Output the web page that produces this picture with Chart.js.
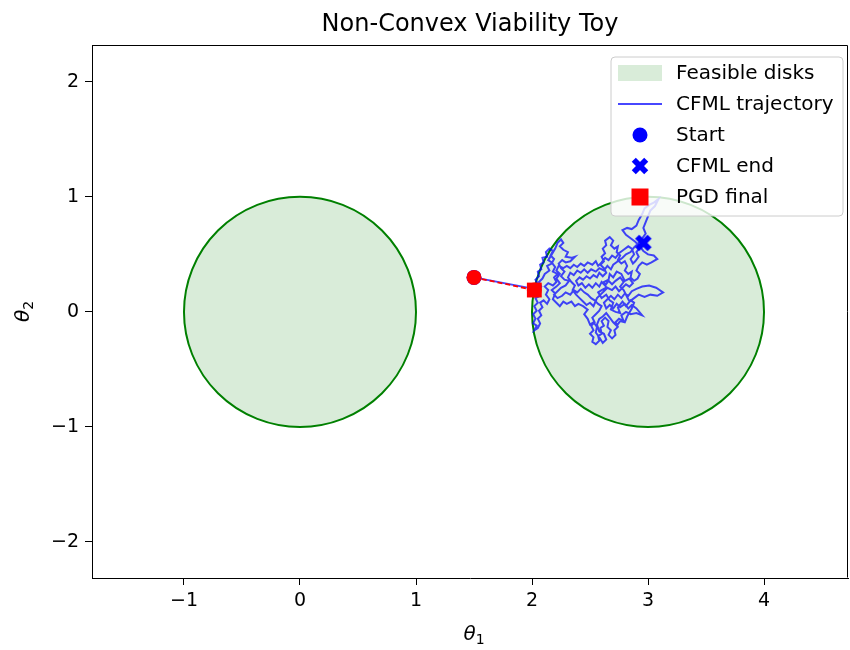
<!DOCTYPE html>
<html>
<head>
<meta charset="utf-8">
<script src="https://cdn.jsdelivr.net/npm/chart.js@4.4.0/dist/chart.umd.min.js"></script>
<style>
  html, body { margin: 0; padding: 0; background: #ffffff; }
  #wrap { width: 850px; height: 650px; }
</style>
</head>
<body>
<div id="wrap"><canvas id="c" width="850" height="650"></canvas></div>
<script>
// ---- data ----
const xTicks = [-1, 0, 1, 2, 3, 4];
const yTicks = [-2, -1, 0, 1, 2];
const diskCenters = [[0, 0], [3, 0]];
const diskRadius = 1;
const startPoint = [[1.5, 0.3]];
const cfmlEndPoint = [[2.96, 0.60]];
const pgdPath = [[1.5, 0.3], [2.02, 0.19]];
const pgdFinalPoint = [[2.02, 0.19]];
const cfmlTrajectory = [
  [1.50, 0.30], [2.02, 0.20],
  [2.05, 0.24], [2.03, 0.28], [2.06, 0.31], [2.05, 0.35], [2.08, 0.37], [2.07, 0.41],
  [2.10, 0.43], [2.09, 0.47], [2.13, 0.48], [2.12, 0.52], [2.15, 0.55], [2.18, 0.53],
  [2.16, 0.49], [2.19, 0.46], [2.17, 0.42], [2.13, 0.40], [2.15, 0.36], [2.11, 0.33],
  [2.09, 0.29], [2.06, 0.26], [2.08, 0.22], [2.05, 0.18], [2.07, 0.14], [2.03, 0.12],
  [2.05, 0.08], [2.02, 0.05], [2.04, 0.01], [2.01, -0.02], [2.03, -0.06], [2.01, -0.10],
  [2.04, -0.12], [2.02, -0.16], [2.05, -0.14], [2.07, -0.10], [2.05, -0.06], [2.08, -0.03],
  [2.06, 0.01], [2.09, 0.04], [2.07, 0.08], [2.10, 0.10], [2.13, 0.07], [2.15, 0.11],
  [2.12, 0.15], [2.14, 0.19], [2.11, 0.22], [2.14, 0.25], [2.18, 0.23], [2.21, 0.26],
  [2.19, 0.30], [2.22, 0.33], [2.18, 0.35], [2.20, 0.39], [2.17, 0.43], [2.14, 0.45],
  [2.17, 0.50], [2.20, 0.55], [2.22, 0.60], [2.25, 0.63], [2.27, 0.60], [2.24, 0.57],
  [2.27, 0.54], [2.31, 0.52], [2.29, 0.48], [2.34, 0.47], [2.37, 0.48], [2.33, 0.44],
  [2.29, 0.43], [2.26, 0.45], [2.23, 0.42], [2.25, 0.38], [2.28, 0.35], [2.25, 0.31],
  [2.28, 0.28], [2.32, 0.27], [2.29, 0.23], [2.25, 0.21], [2.22, 0.18], [2.19, 0.15],
  [2.22, 0.12], [2.26, 0.14], [2.29, 0.17], [2.33, 0.15], [2.36, 0.19], [2.39, 0.17],
  [2.42, 0.20], [2.45, 0.17], [2.48, 0.15], [2.51, 0.12], [2.54, 0.10], [2.57, 0.07],
  [2.60, 0.05], [2.58, 0.01], [2.55, -0.02],
  [2.52, -0.05], [2.54, -0.09], [2.51, -0.12], [2.53, -0.16], [2.50, -0.19], [2.53, -0.22],
  [2.52, -0.26], [2.55, -0.28], [2.58, -0.25], [2.57, -0.21], [2.60, -0.19], [2.59, -0.14],
  [2.62, -0.12], [2.60, -0.08], [2.63, -0.05], [2.66, -0.08], [2.65, -0.13], [2.68, -0.16],
  [2.66, -0.20], [2.69, -0.23], [2.72, -0.20], [2.71, -0.16], [2.74, -0.13], [2.72, -0.09],
  [2.75, -0.06], [2.79, -0.08], [2.77, -0.03], [2.81, 0.00], [2.85, -0.02], [2.90, -0.01],
  [2.95, -0.03], [2.90, 0.03], [2.86, 0.06], [2.83, 0.03], [2.80, 0.07], [2.76, 0.04],
  [2.73, 0.07], [2.70, 0.03], [2.67, 0.06], [2.64, 0.03], [2.62, 0.08], [2.65, 0.11],
  [2.68, 0.14], [2.71, 0.11], [2.74, 0.15], [2.77, 0.12], [2.80, 0.16], [2.83, 0.14],
  [2.86, 0.18], [2.90, 0.20], [2.95, 0.22], [3.01, 0.23], [3.07, 0.21], [3.13, 0.17],
  [3.08, 0.14], [3.02, 0.15], [2.97, 0.13], [2.92, 0.15], [2.88, 0.12], [2.84, 0.09],
  [2.82, 0.13], [2.79, 0.19], [2.76, 0.22], [2.79, 0.26], [2.76, 0.30], [2.72, 0.27],
  [2.69, 0.24], [2.66, 0.27], [2.63, 0.23], [2.60, 0.26], [2.58, 0.22], [2.55, 0.25],
  [2.52, 0.21], [2.49, 0.24], [2.46, 0.21], [2.43, 0.25], [2.40, 0.23], [2.38, 0.27],
  [2.41, 0.30], [2.44, 0.28], [2.47, 0.31], [2.50, 0.29], [2.53, 0.32], [2.56, 0.30],
  [2.58, 0.34], [2.61, 0.31], [2.64, 0.34], [2.62, 0.38], [2.59, 0.41], [2.62, 0.44],
  [2.60, 0.48], [2.63, 0.51], [2.61, 0.55], [2.64, 0.58], [2.63, 0.62], [2.67, 0.65],
  [2.70, 0.62], [2.68, 0.58], [2.71, 0.55], [2.74, 0.57], [2.73, 0.52], [2.76, 0.49],
  [2.74, 0.45], [2.77, 0.42], [2.80, 0.44], [2.82, 0.40], [2.80, 0.36], [2.83, 0.33],
  [2.86, 0.35], [2.85, 0.30], [2.88, 0.27], [2.91, 0.29], [2.93, 0.33], [2.90, 0.36],
  [2.92, 0.40], [2.95, 0.43], [2.99, 0.41], [3.03, 0.43], [3.08, 0.46], [3.05, 0.49],
  [3.00, 0.50], [2.96, 0.53],
  [2.93, 0.57], [2.89, 0.61], [2.85, 0.64], [2.81, 0.67], [2.78, 0.71], [2.82, 0.73],
  [2.86, 0.72], [2.90, 0.75], [2.92, 0.80], [2.95, 0.85], [2.97, 0.90], [3.01, 0.93],
  [3.05, 0.95], [3.09, 0.98], [3.06, 0.92], [3.02, 0.88], [3.00, 0.83], [2.98, 0.78],
  [2.96, 0.73], [2.98, 0.68], [2.95, 0.64], [2.92, 0.60],
  [2.88, 0.56], [2.85, 0.52], [2.81, 0.50], [2.78, 0.47], [2.74, 0.44], [2.70, 0.41],
  [2.68, 0.37], [2.65, 0.40], [2.62, 0.36], [2.58, 0.38], [2.55, 0.35], [2.51, 0.37],
  [2.48, 0.34], [2.45, 0.37], [2.42, 0.34], [2.39, 0.36], [2.36, 0.32], [2.33, 0.34],
  [2.31, 0.30], [2.34, 0.26], [2.37, 0.23], [2.35, 0.19], [2.38, 0.15], [2.41, 0.12],
  [2.44, 0.09], [2.47, 0.06], [2.50, 0.08], [2.53, 0.05], [2.56, 0.12], [2.59, 0.15],
  [2.62, 0.18], [2.65, 0.21], [2.69, 0.19], [2.72, 0.22], [2.75, 0.18], [2.78, 0.21],
  [2.81, 0.24], [2.84, 0.22], [2.87, 0.25],
  [2.84, 0.29], [2.80, 0.27], [2.77, 0.33], [2.73, 0.35], [2.70, 0.30], [2.67, 0.33],
  [2.66, 0.28], [2.62, 0.26], [2.64, 0.21], [2.60, 0.19], [2.57, 0.17], [2.60, 0.12],
  [2.64, 0.15], [2.67, 0.10], [2.70, 0.08], [2.68, 0.02], [2.72, 0.00], [2.76, -0.01],
  [2.74, 0.04], [2.78, 0.09], [2.81, 0.05], [2.85, 0.10], [2.88, 0.08], [2.86, 0.03],
  [2.82, -0.04], [2.80, -0.09], [2.76, -0.08], [2.73, -0.12], [2.70, -0.09], [2.67, -0.05],
  [2.64, -0.01], [2.61, -0.04], [2.58, -0.06], [2.56, -0.11], [2.58, -0.17], [2.62, -0.19],
  [2.64, -0.24], [2.61, -0.27], [2.58, -0.22], [2.55, -0.18], [2.56, -0.13], [2.53, -0.09],
  [2.50, -0.11], [2.48, -0.06], [2.45, -0.02], [2.48, 0.02], [2.44, 0.05], [2.40, 0.07],
  [2.37, 0.05], [2.34, 0.09], [2.30, 0.07], [2.27, 0.09], [2.24, 0.05], [2.21, 0.08],
  [2.18, 0.11], [2.20, 0.16], [2.17, 0.19], [2.21, 0.22], [2.24, 0.25], [2.21, 0.29],
  [2.24, 0.33], [2.21, 0.36], [2.23, 0.40], [2.27, 0.38], [2.30, 0.40], [2.33, 0.38],
  [2.36, 0.41], [2.39, 0.39], [2.42, 0.42], [2.45, 0.40], [2.48, 0.43], [2.52, 0.41],
  [2.55, 0.44], [2.57, 0.40], [2.60, 0.43], [2.63, 0.47], [2.66, 0.45], [2.69, 0.49],
  [2.72, 0.47], [2.75, 0.51], [2.79, 0.54], [2.83, 0.57], [2.86, 0.55], [2.88, 0.50],
  [2.85, 0.46], [2.87, 0.42], [2.89, 0.44], [2.92, 0.48], [2.90, 0.52], [2.93, 0.56],
  [2.96, 0.60]
];

const toXY = arr => arr.map(([x, y]) => ({ x, y }));

// ---- styles ----
const FONT = '"DejaVu Sans", "Liberation Sans", sans-serif';
const TRAJ_COLOR = 'rgba(0,0,255,0.72)';
const DISK_FILL = 'rgba(0,128,0,0.15)';
const DISK_EDGE = '#008000';

// filled "X" marker
function makeXMarker(color) {
  const s = 20, c = document.createElement('canvas');
  c.width = c.height = s;
  const g = c.getContext('2d');
  g.fillStyle = color;
  g.translate(s / 2, s / 2);
  g.rotate(Math.PI / 4);
  const L = 8.8, w = 2.9;
  g.fillRect(-L, -w, 2 * L, 2 * w);
  g.fillRect(-w, -L, 2 * w, 2 * L);
  return c;
}
const xMarker = makeXMarker('#0000ff');

// feasible disks drawn under the datasets, sized through the scales
const diskPlugin = {
  id: 'disks',
  beforeDatasetsDraw(chart) {
    const { ctx, chartArea: a, scales: { x, y } } = chart;
    ctx.save();
    ctx.beginPath();
    ctx.rect(a.left, a.top, a.right - a.left, a.bottom - a.top);
    ctx.clip();
    diskCenters.forEach(([cxv, cyv]) => {
      const cx = x.getPixelForValue(cxv), cy = y.getPixelForValue(cyv);
      const rx = Math.abs(x.getPixelForValue(cxv + diskRadius) - cx);
      const ry = Math.abs(y.getPixelForValue(cyv + diskRadius) - cy);
      ctx.beginPath();
      ctx.ellipse(cx, cy, rx, ry, 0, 0, Math.PI * 2);
      ctx.fillStyle = DISK_FILL;
      ctx.fill();
      ctx.lineWidth = 2;
      ctx.strokeStyle = DISK_EDGE;
      ctx.stroke();
    });
    ctx.restore();
  }
};

function drawTheta(ctx, sub) {
  ctx.font = 'italic 20px ' + FONT;
  const w1 = ctx.measureText('θ').width;
  ctx.font = '14px ' + FONT;
  const w2 = ctx.measureText(sub).width;
  const total = w1 + w2;
  ctx.textAlign = 'left';
  ctx.textBaseline = 'alphabetic';
  ctx.font = 'italic 20px ' + FONT;
  ctx.fillText('θ', -total / 2, 7);
  ctx.font = '14px ' + FONT;
  ctx.fillText(sub, -total / 2 + w1, 11);
}

// frame, title, axis titles and the legend box
const decorPlugin = {
  id: 'decor',
  afterDraw(chart) {
    const { ctx, chartArea: a } = chart;
    ctx.save();
    ctx.strokeStyle = '#000';
    ctx.lineWidth = 1;
    const L = Math.round(a.left) + 0.5, T = Math.round(a.top) + 0.5;
    const R = Math.round(a.right) - 0.5, B = Math.round(a.bottom) - 0.5;
    ctx.beginPath();
    ctx.moveTo(L, T); ctx.lineTo(R, T); ctx.lineTo(R, B);
    ctx.stroke();

    ctx.fillStyle = '#000';
    const midX = (a.left + a.right) / 2;
    ctx.font = '24px ' + FONT;
    ctx.textAlign = 'center';
    ctx.textBaseline = 'alphabetic';
    ctx.fillText('Non-Convex Viability Toy', midX, 31);

    ctx.save();
    ctx.translate(midX + 4, 633);
    drawTheta(ctx, '1');
    ctx.restore();

    ctx.save();
    ctx.translate(22, (a.top + a.bottom) / 2);
    ctx.rotate(-Math.PI / 2);
    drawTheta(ctx, '2');
    ctx.restore();

    // legend
    const items = chart.data.datasets.filter(d => d.label);
    const bx = a.right - 237, by = a.top + 12, bw = 232, bh = 159, r = 4;
    ctx.beginPath();
    ctx.moveTo(bx + r, by);
    ctx.arcTo(bx + bw, by, bx + bw, by + bh, r);
    ctx.arcTo(bx + bw, by + bh, bx, by + bh, r);
    ctx.arcTo(bx, by + bh, bx, by, r);
    ctx.arcTo(bx, by, bx + bw, by, r);
    ctx.closePath();
    ctx.fillStyle = 'rgba(255,255,255,0.8)';
    ctx.fill();
    ctx.strokeStyle = '#cccccc';
    ctx.lineWidth = 1;
    ctx.stroke();

    const hx0 = bx + 7, hx1 = bx + 51, hc = (hx0 + hx1) / 2, tx = bx + 65;
    items.forEach((d, i) => {
      const cy = by + 16 + i * 31;
      const kind = d.legendKind;
      if (kind === 'patch') {
        ctx.fillStyle = DISK_FILL;
        ctx.fillRect(hx0, cy - 8, hx1 - hx0, 16);
      } else if (kind === 'line') {
        ctx.strokeStyle = TRAJ_COLOR;
        ctx.lineWidth = 1.8;
        ctx.beginPath();
        ctx.moveTo(hx0, cy);
        ctx.lineTo(hx1, cy);
        ctx.stroke();
      } else if (kind === 'circle') {
        ctx.fillStyle = '#0000ff';
        ctx.beginPath();
        ctx.arc(hc, cy, 7.5, 0, Math.PI * 2);
        ctx.fill();
      } else if (kind === 'x') {
        ctx.drawImage(xMarker, hc - xMarker.width / 2, cy - xMarker.height / 2);
      } else if (kind === 'square') {
        ctx.fillStyle = '#ff0000';
        ctx.fillRect(hc - 8.5, cy - 8.5, 17, 17);
      }
      ctx.fillStyle = '#000';
      ctx.font = '20px ' + FONT;
      ctx.textAlign = 'left';
      ctx.textBaseline = 'middle';
      ctx.fillText(d.label, tx, cy + 1);
    });
    ctx.restore();
  }
};

const minusFmt = v => (v < 0 ? '\u2212' + Math.abs(v) : String(v));
const noPad = s => { s.paddingLeft = 0; s.paddingRight = 0; s.paddingTop = 0; s.paddingBottom = 0; };

new Chart(document.getElementById('c'), {
  type: 'scatter',
  data: {
    datasets: [
      {
        label: 'Feasible disks', legendKind: 'patch',
        data: toXY(diskCenters), pointRadius: 0, showLine: false, order: 10
      },
      {
        label: 'CFML trajectory', legendKind: 'line',
        data: toXY(cfmlTrajectory), showLine: true, pointRadius: 0,
        borderColor: TRAJ_COLOR, borderWidth: 2, tension: 0, order: 6
      },
      {
        label: 'Start', legendKind: 'circle',
        data: toXY(startPoint), pointRadius: 7.5, pointBorderWidth: 0,
        pointBackgroundColor: '#0000ff', order: 5
      },
      {
        label: 'CFML end', legendKind: 'x',
        data: toXY(cfmlEndPoint), pointStyle: xMarker, order: 4
      },
      {
        data: toXY(pgdPath), showLine: true, borderColor: '#ff0000', borderWidth: 1.8,
        borderDash: [5, 3], pointRadius: 7.5, pointBorderWidth: 0,
        pointBackgroundColor: '#ff0000', order: 3
      },
      {
        label: 'PGD final', legendKind: 'square',
        data: toXY(pgdFinalPoint), pointStyle: 'rect', pointRadius: 10.5,
        pointBorderWidth: 0, pointBackgroundColor: '#ff0000', order: 2
      }
    ]
  },
  options: {
    responsive: false,
    devicePixelRatio: 1,
    animation: false,
    events: [],
    layout: { autoPadding: false, padding: { top: 45, right: 2, left: 0, bottom: 0 } },
    plugins: { legend: { display: false }, title: { display: false }, tooltip: { enabled: false } },
    scales: {
      x: {
        type: 'linear', position: 'bottom', min: -1.793, max: 4.724,
        grid: { drawOnChartArea: false, drawTicks: true, tickLength: 7, color: '#000', tickWidth: 1 },
        border: { display: true, color: '#000', width: 1 },
        ticks: { color: '#000', font: { family: FONT, size: 19 }, padding: 5,
                 maxRotation: 0, autoSkip: false, callback: minusFmt },
        afterBuildTicks: s => { s.ticks = xTicks.map(v => ({ value: v })); },
        afterFit: s => { s.height = 72; noPad(s); }
      },
      y: {
        type: 'linear', position: 'left', min: -2.313, max: 2.32,
        grid: { drawOnChartArea: false, drawTicks: true, tickLength: 7, color: '#000', tickWidth: 1 },
        border: { display: true, color: '#000', width: 1 },
        ticks: { color: '#000', font: { family: FONT, size: 19 }, padding: 6,
                 autoSkip: false, callback: minusFmt },
        afterBuildTicks: s => { s.ticks = yTicks.map(v => ({ value: v })); },
        afterFit: s => { s.width = 92; noPad(s); }
      }
    }
  },
  plugins: [diskPlugin, decorPlugin]
});
</script>
</body>
</html>
